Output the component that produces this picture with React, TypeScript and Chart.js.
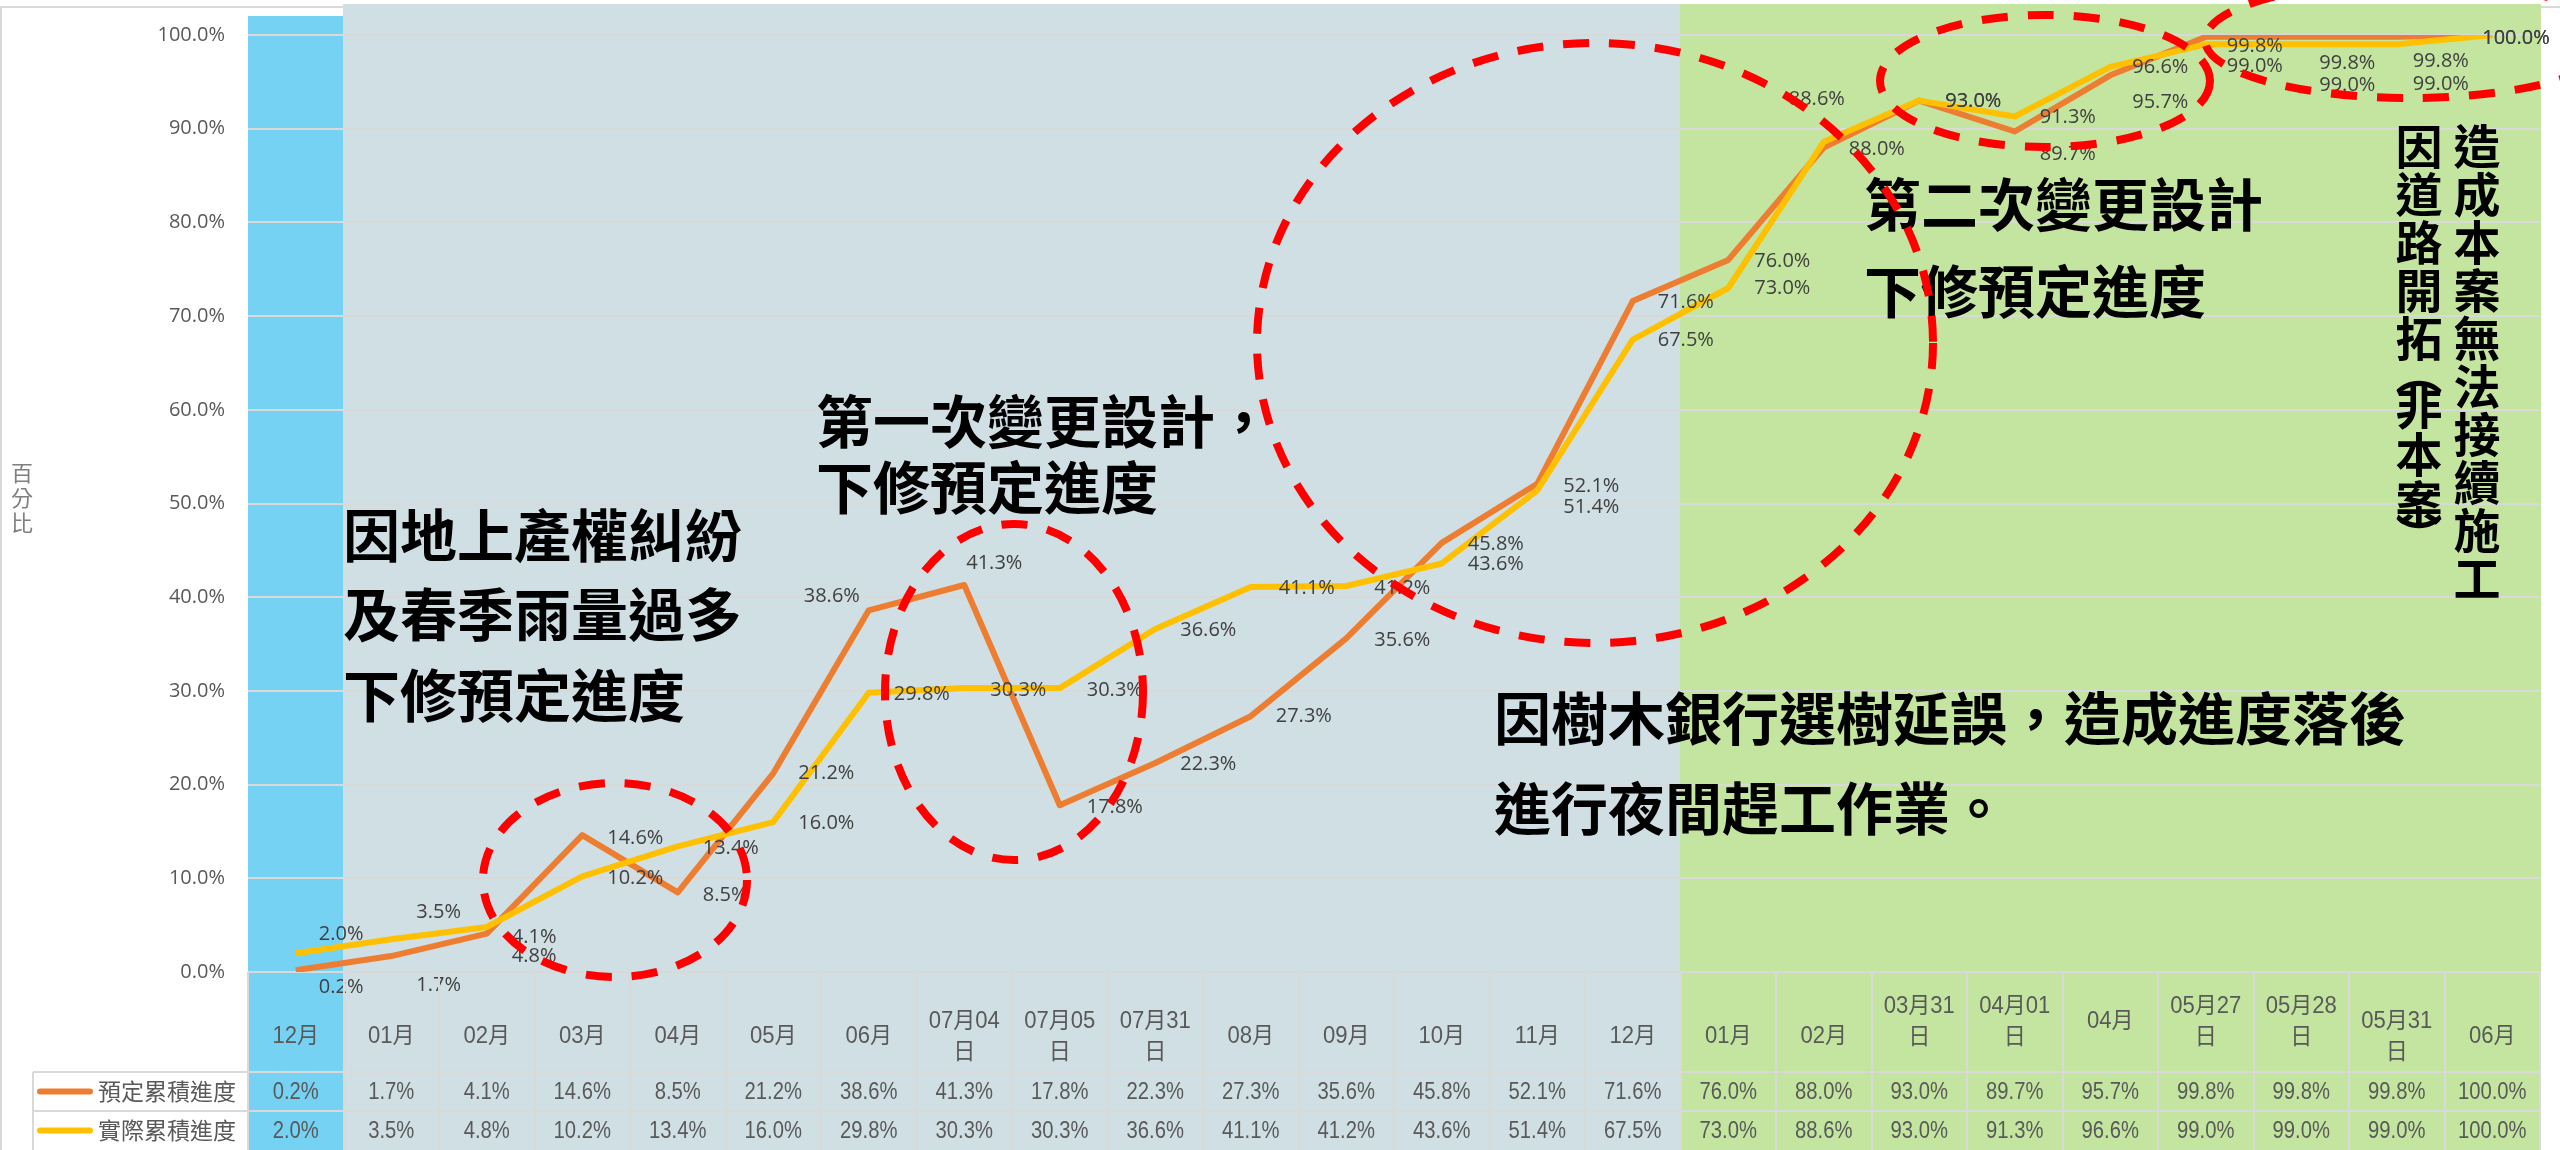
import React, { useEffect, useRef } from "react";
import { Chart, registerables } from "chart.js";

Chart.register(...registerables);

// ---------------- data ----------------
const categories = [
  "12月", "01月", "02月", "03月", "04月", "05月", "06月", "07月04日", "07月05日", "07月31日",
  "08月", "09月", "10月", "11月", "12月", "01月", "02月", "03月31日", "04月01日", "04月",
  "05月27日", "05月28日", "05月31日", "06月",
];
const tickLabels: string[][] = [
  ["12月"], ["01月"], ["02月"], ["03月"], ["04月"], ["05月"], ["06月"], ["07月04", "日"], ["07月05", "日"], ["07月31", "日"],
  ["08月"], ["09月"], ["10月"], ["11月"], ["12月"], ["01月"], ["02月"], ["03月31", "日"], ["04月01", "日"], ["04月"],
  ["05月27", "日"], ["05月28", "日"], ["05月31", "日"], ["06月"],
];
const planned = [0.2, 1.7, 4.1, 14.6, 8.5, 21.2, 38.6, 41.3, 17.8, 22.3, 27.3, 35.6, 45.8, 52.1, 71.6, 76.0, 88.0, 93.0, 89.7, 95.7, 99.8, 99.8, 99.8, 100.0];
const actual = [2.0, 3.5, 4.8, 10.2, 13.4, 16.0, 29.8, 30.3, 30.3, 36.6, 41.1, 41.2, 43.6, 51.4, 67.5, 73.0, 88.6, 93.0, 91.3, 96.6, 99.0, 99.0, 99.0, 100.0];
const seriesNames = ["預定累積進度", "實際累積進度"];
const yAxisTitle = "百分比";
const notes = [
  ["因地上產權糾紛", "及春季雨量過多", "下修預定進度"],
  ["第一次變更設計，", "下修預定進度"],
  ["因樹木銀行選樹延誤，造成進度落後", "進行夜間趕工作業。"],
  ["第二次變更設計", "下修預定進度"],
];
const verticalNoteRight = ["造", "成", "本", "案", "無", "法", "接", "續", "施", "工"];
const verticalNoteLeft = ["因", "道", "路", "開", "拓", "︵", "非", "本", "案", "︶"];

// ---------------- styles / placement ----------------
const ORANGE = "#ED7D31";
const YELLOW = "#FFC000";
const PHASE_COLORS = ["#75D2F3", "#D0DFE4", "#C4E5A0"];
const phaseOf = (i: number) => (i === 0 ? 0 : i <= 14 ? 1 : 2);
const GRID = "#D9D9D9";

// label offsets (left edge / vertical centre relative to the point)
const plannedLabelDx = [23, 25, 25, 25, 25, 25, -65, 2, 27, 25, 25, 28, 26, 26, 25, 26, 25, 26, 25, 22, 21, 18, 16, -10];
const plannedLabelDy = [17, 29, 4, 3, 3, 0, -14, -22, 2, 1, 0, 2, 1, 2, 1, 1, 2, 1, 23, 27, 9, 26, 24, 3];
const actualLabelDx = [23, 25, 25, 25, 25, 25, 25, 26, 27, 25, 28, 28, 26, 26, 25, 26, -35, 26, 25, 22, 21, 18, 16, -10];
const actualLabelDy = [-19, -27, 29, 2, 2, 1, 2, 2, 2, 1, 1, 2, 1, 17, 1, 0, -43, 1, 1, 0, 22, 41, 40, 3];
const tickBlockShift = [0, 0, 0, 0, 0, 0, 0, 0, 0, 0, 0, 0, 0, 0, 0, 0, 0, -15, -15, -15, -15, -15, 0, 0];

const notePos = [
  { x: 343, ys: [535, 614, 695] },
  { x: 816, ys: [421, 487] },
  { x: 1494, ys: [718, 808] },
  { x: 1864, ys: [204, 291] },
];
const ellipses = [
  { cx: 615, cy: 880, rx: 132, ry: 97 },
  { cx: 1014, cy: 692, rx: 129, ry: 168 },
  { cx: 1595, cy: 343, rx: 338, ry: 300 },
  { cx: 2045, cy: 81, rx: 165, ry: 66 },
  { cx: 2410, cy: 40, rx: 205, ry: 58 },
];

const W = 2560;
const H = 1150;
const ROW1 = 1072;
const ROW2 = 1111;
const LEGEND_LEFT = 33;

const fmt = (v: number) => v.toFixed(1) + "%";

const backgroundPlugin = {
  id: "bands",
  beforeDraw(chart: any) {
    const { ctx, scales } = chart;
    const x = scales.x;
    const w = x.getPixelForValue(1) - x.getPixelForValue(0);
    ctx.save();
    ctx.fillStyle = "#FFFFFF";
    ctx.fillRect(0, 0, W, H);
    ctx.strokeStyle = GRID;
    ctx.lineWidth = 2;
    ctx.beginPath();
    ctx.moveTo(1, H);
    ctx.lineTo(1, 7);
    ctx.lineTo(W, 7);
    ctx.stroke();
    for (let i = 0; i < categories.length; i++) {
      const c = x.getPixelForValue(i);
      const p = phaseOf(i);
      const top = p === 0 ? 16 : 4;
      ctx.fillStyle = PHASE_COLORS[p];
      ctx.fillRect(Math.floor(c - w / 2), top, Math.ceil(w) + 1, H - top);
    }
    ctx.restore();
  },
};

const overlayPlugin = {
  id: "overlay",
  afterDatasetsDraw(chart: any) {
    const { ctx, scales } = chart;
    const x = scales.x;
    const y = scales.y;
    ctx.save();
    ctx.font = '20px "Open Sans"';
    ctx.fillStyle = "#404040";
    ctx.textBaseline = "middle";
    ctx.textAlign = "left";
    const put = (vals: number[], dx: number[], dy: number[]) =>
      vals.forEach((v, i) => {
        const px = x.getPixelForValue(i);
        const py = y.getPixelForValue(v);
        ctx.fillText(fmt(v), px + dx[i], py + dy[i]);
      });
    put(planned, plannedLabelDx, plannedLabelDy);
    put(actual, actualLabelDx, actualLabelDy);
    ctx.restore();
  },
  afterDraw(chart: any) {
    const { ctx, scales, chartArea } = chart;
    const x = scales.x;
    const w = x.getPixelForValue(1) - x.getPixelForValue(0);
    const left = chartArea.left;
    const right = chartArea.right;
    const axisY = chartArea.bottom;
    ctx.save();

    // table grid
    ctx.strokeStyle = GRID;
    ctx.lineWidth = 2;
    ctx.beginPath();
    for (let k = 0; k <= categories.length; k++) {
      const xx = Math.round(left + k * w);
      ctx.moveTo(xx, axisY);
      ctx.lineTo(xx, H);
    }
    ctx.moveTo(LEGEND_LEFT, ROW1);
    ctx.lineTo(right, ROW1);
    ctx.moveTo(LEGEND_LEFT, ROW2);
    ctx.lineTo(right, ROW2);
    ctx.moveTo(LEGEND_LEFT, ROW1);
    ctx.lineTo(LEGEND_LEFT, H);
    ctx.stroke();

    // category labels
    ctx.fillStyle = "#595959";
    ctx.textAlign = "center";
    ctx.textBaseline = "middle";
    ctx.font = '23px "Liberation Sans", "Noto Sans CJK TC"';
    for (let i = 0; i < categories.length; i++) {
      const c = x.getPixelForValue(i);
      const lines = tickLabels[i];
      const center = 1037 + tickBlockShift[i];
      lines.forEach((ln, j) => {
        const yy = center + (j - (lines.length - 1) / 2) * 31;
        ctx.save();
        ctx.translate(c, yy);
        ctx.scale(0.96, 1);
        ctx.fillText(ln, 0, 0);
        ctx.restore();
      });
    }
    // values rows
    const rows = [planned, actual];
    const rowCenters = [(ROW1 + ROW2) / 2, (ROW2 + H) / 2];
    rows.forEach((vals, r) => {
      vals.forEach((v, i) => {
        const c = x.getPixelForValue(i);
        ctx.save();
        ctx.translate(c, rowCenters[r] + 1);
        ctx.scale(0.88, 1);
        ctx.fillText(fmt(v), 0, 0);
        ctx.restore();
      });
    });
    // legend keys
    const colors = [ORANGE, YELLOW];
    rowCenters.forEach((cy, r) => {
      ctx.strokeStyle = colors[r];
      ctx.lineWidth = 6;
      ctx.lineCap = "round";
      ctx.beginPath();
      ctx.moveTo(40, cy);
      ctx.lineTo(90, cy);
      ctx.stroke();
      ctx.fillStyle = "#595959";
      ctx.textAlign = "left";
      ctx.font = '23px "Noto Sans CJK TC"';
      ctx.fillText(seriesNames[r], 98, cy);
    });

    // y axis title
    ctx.fillStyle = "#7F7F7F";
    ctx.textAlign = "center";
    ctx.font = '22px "Noto Sans CJK TC"';
    Array.from(yAxisTitle).forEach((ch, k) => ctx.fillText(ch, 22, 473 + k * 25));

    // annotation texts
    ctx.fillStyle = "#000000";
    ctx.textAlign = "left";
    ctx.font = 'bold 57px "Noto Sans CJK TC"';
    notes.forEach((lines, n) => {
      lines.forEach((ln, j) => ctx.fillText(ln, notePos[n].x, notePos[n].ys[j]));
    });
    ctx.textAlign = "center";
    ctx.font = 'bold 47px "Noto Sans CJK TC"';
    verticalNoteRight.forEach((ch, k) => ctx.fillText(ch, 2477, 146 + k * 48));
    let yy = 146;
    verticalNoteLeft.forEach((ch, k) => {
      const isParen = ch === "︵" || ch === "︶";
      if (k > 0) {
        const prevParen = verticalNoteLeft[k - 1] === "︵" || verticalNoteLeft[k - 1] === "︶";
        yy += isParen || prevParen ? 34 : 48;
      }
      ctx.fillText(ch, 2419, yy);
    });

    // dashed ellipses
    ctx.strokeStyle = "#FF0000";
    ctx.lineWidth = 8;
    ctx.lineCap = "butt";
    ctx.setLineDash([26, 20]);
    ellipses.forEach((e) => {
      ctx.beginPath();
      ctx.ellipse(e.cx, e.cy, e.rx, e.ry, 0, 0, Math.PI * 2);
      ctx.stroke();
    });
    ctx.restore();
  },
};

export default function App() {
  const ref = useRef<HTMLCanvasElement | null>(null);
  useEffect(() => {
    document.body.style.margin = "0";
    const canvas = ref.current;
    if (!canvas) return;
    const chart = new Chart(canvas, {
      type: "line",
      data: {
        labels: categories,
        datasets: [
          {
            label: seriesNames[0],
            data: planned,
            borderColor: ORANGE,
            backgroundColor: ORANGE,
            borderWidth: 6,
            pointRadius: 0,
            tension: 0,
            borderJoinStyle: "round",
            order: 1,
          },
          {
            label: seriesNames[1],
            data: actual,
            borderColor: YELLOW,
            backgroundColor: YELLOW,
            borderWidth: 6,
            pointRadius: 0,
            tension: 0,
            borderJoinStyle: "round",
            order: 0,
          },
        ],
      },
      options: {
        responsive: false,
        animation: false,
        devicePixelRatio: 1,
        layout: { padding: { left: 0, right: 20, top: 22, bottom: 0 } },
        plugins: { legend: { display: false }, tooltip: { enabled: false } },
        scales: {
          x: {
            type: "category",
            offset: true,
            grid: { display: false },
            border: { display: false },
            ticks: { display: false },
            afterFit: (s: any) => {
              s.height = 178;
            },
          },
          y: {
            min: 0,
            max: 100,
            ticks: {
              stepSize: 10,
              callback: (v: any) => Number(v).toFixed(1) + "%",
              font: { family: "Open Sans", size: 20 },
              color: "#595959",
              padding: 23,
            },
            grid: { color: GRID, lineWidth: 2, drawTicks: false },
            border: { display: false },
            afterFit: (s: any) => {
              s.width = 248;
            },
          },
        },
      } as any,
      plugins: [backgroundPlugin, overlayPlugin],
    });
    return () => chart.destroy();
  }, []);
  return <canvas ref={ref} width={W} height={H} style={{ display: "block" }} />;
}
